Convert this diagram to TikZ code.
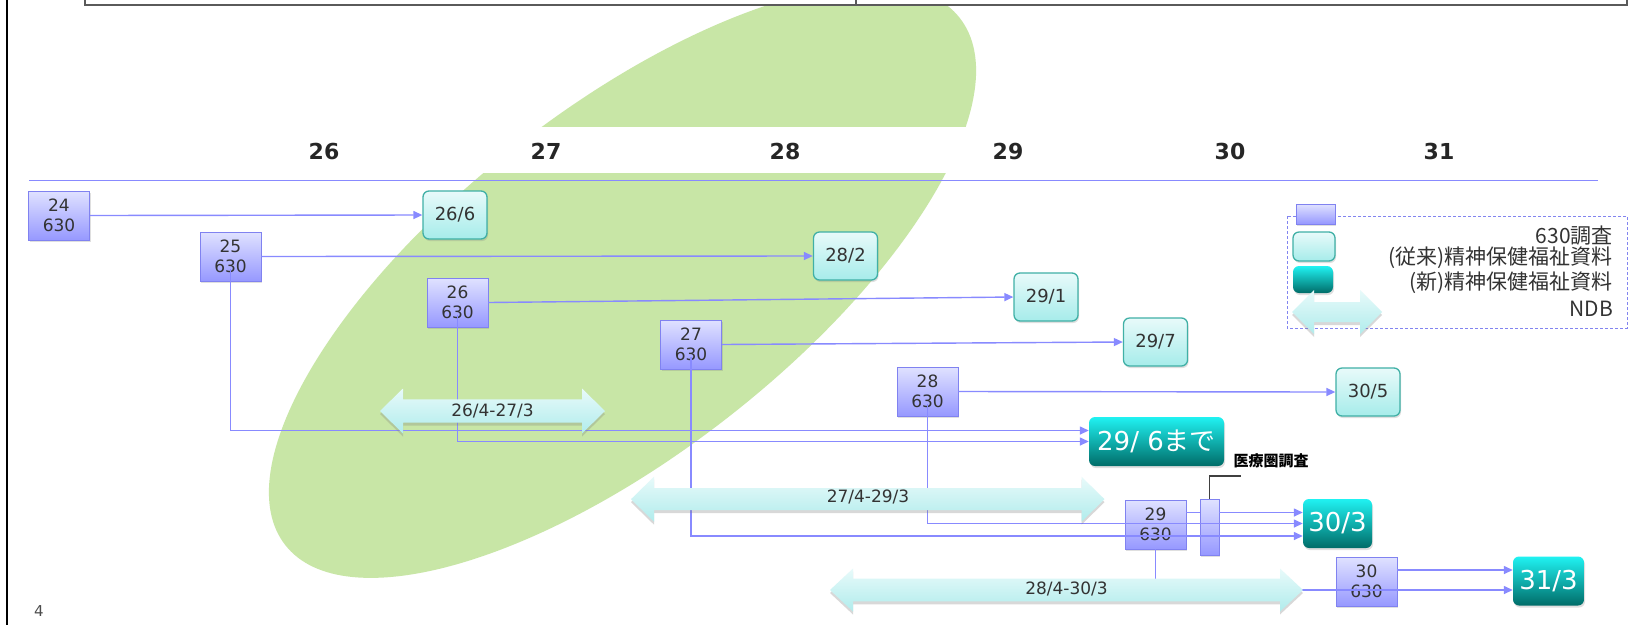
\documentclass[tikz,border=0pt]{standalone}
\usepackage{fontspec}
\setmainfont{DejaVu Sans}
\newfontfamily\jp{Noto Sans CJK JP}
\usetikzlibrary{arrows.meta,shadows}

\definecolor{leaf}{RGB}{200,230,166}
\definecolor{linkc}{RGB}{136,138,255}
\definecolor{boxtop}{RGB}{224,226,255}
\definecolor{boxbot}{RGB}{150,152,255}
\definecolor{boxedge}{RGB}{128,130,240}
\definecolor{oldtop}{RGB}{232,250,250}
\definecolor{oldbot}{RGB}{166,236,234}
\definecolor{oldedge}{RGB}{64,176,166}
\definecolor{newtop}{RGB}{32,242,242}
\definecolor{newbot}{RGB}{0,108,104}
\definecolor{ndbtop}{RGB}{232,250,250}
\definecolor{ndbbot}{RGB}{176,236,236}
\definecolor{txt}{RGB}{51,51,51}
\definecolor{framec}{RGB}{90,90,90}
\definecolor{legdash}{RGB}{130,132,240}

% double-headed NDB period arrow: left tip x, right tip x, axis y, head half-height, shaft half-height, head length
\newcommand\ndbpath[6]{%
  \path[ndbfill] (#1,#3) -- (#1+#6,#3-#4) -- (#1+#6,#3-#5) -- (#2-#6,#3-#5)
    -- (#2-#6,#3-#4) -- (#2,#3) -- (#2-#6,#3+#4) -- (#2-#6,#3+#5)
    -- (#1+#6,#3+#5) -- (#1+#6,#3+#4) -- cycle;}

\begin{document}
\begin{tikzpicture}[x=1pt,y=-1pt,
  softshadow/.style={drop shadow={shadow xshift=1pt,shadow yshift=-2pt,opacity=0.25}},
  box630/.style={draw=boxedge,line width=0.8pt,top color=boxtop,bottom color=boxbot,
    minimum width=61pt,minimum height=49pt,inner sep=0pt,align=center,text=txt,
    font=\fontsize{17}{19.5}\selectfont,softshadow},
  olddate/.style={draw=oldedge,line width=1.3pt,rounded corners=6pt,top color=oldtop,
    bottom color=oldbot,minimum width=64pt,minimum height=48pt,inner sep=0pt,text=txt,
    font=\fontsize{18}{20}\selectfont,softshadow},
  newdate/.style={rounded corners=6pt,top color=newtop,bottom color=newbot,
    minimum height=49pt,inner sep=0pt,text=white,font=\fontsize{26}{28}\selectfont,softshadow},
  year/.style={font=\fontsize{22}{24}\selectfont\bfseries,text=black!85,inner sep=0pt},
  conn/.style={linkc,line width=1.4pt,-{Triangle[length=9pt,width=8pt]}},
  link/.style={linkc,line width=1.4pt},
  ndbfill/.style={top color=ndbtop,bottom color=ndbbot,
    drop shadow={shadow xshift=0pt,shadow yshift=-3pt,opacity=0.3}},
  ndblabel/.style={font=\fontsize{17}{19}\selectfont,text=txt,inner sep=0pt},
  legtext/.style={anchor=east,font=\jp\fontsize{21}{23}\selectfont,text=txt,inner sep=0pt},
  callout/.style={draw=black!75,line width=1.2pt}]

\useasboundingbox (0,0) rectangle (1635,625);
\fill[white] (0,0) rectangle (1635,625);

% green band behind the first years
\begin{scope}
  \clip (0,5) rectangle (1635,625);
  \fill[leaf,rotate around={38:(622.5,281.5)}] (622.5,281.5) ellipse [x radius=428,y radius=172];
\end{scope}
\fill[white] (90,127) rectangle (1600,173);

% page frame and table edge
\draw[black,line width=2pt] (6.7,0) -- (6.7,625);
\draw[framec,line width=2pt] (85,0) -- (85,4.5) -- (1627,4.5) -- (1627,0);
\draw[framec,line width=1.2pt] (856,0) -- (856,4.5);

% year header
\draw[linkc,line width=1pt] (29,180) -- (1598,180);
\node[year] (y26) at (324,151) {26};
\node[year] (y27) at (546,151) {27};
\node[year] (y28) at (785,151) {28};
\node[year] (y29) at (1008,151) {29};
\node[year] (y30) at (1230,151) {30};
\node[year] (y31) at (1439,151) {31};

% 630 surveys
\node[box630] (b24) at (59,215.5) {24\\630};
\node[box630] (b25) at (230.5,256.5) {25\\630};
\node[box630] (b26) at (457.5,302.5) {26\\630};
\node[box630] (b27) at (691,344.5) {27\\630};
\node[box630] (b28) at (927.5,391.5) {28\\630};
\node[box630] (b29) at (1155.5,524.5) {29\\630};
\node[box630] (b30) at (1366.5,581.5) {30\\630};
\node[box630,minimum width=19pt,minimum height=56pt] (srv) at (1209.5,527) {};

% earlier-style reports
\node[olddate] (d266) at (455,215) {26/6};
\node[olddate] (d282) at (845.5,256) {28/2};
\node[olddate] (d291) at (1046,297) {29/1};
\node[olddate] (d297) at (1155.5,342) {29/7};
\node[olddate] (d305) at (1368,392) {30/5};

% new-style reports
\node[newdate,minimum width=135pt] (n296) at (1156.5,441.5) {29/ 6{\jp まで}};
\node[newdate,minimum width=69pt] (n303) at (1337.5,523.5) {30/3};
\node[newdate,minimum width=71pt] (n313) at (1548.5,581) {31/3};

% connectors
\draw[conn] (b24.east) -- (d266.west);
\draw[conn] (b25.east) -- (d282.west);
\draw[conn] (b26.east) -- (d291.west);
\draw[conn] (b27.east) -- (d297.west);
\draw[conn] (b28.east) -- (d305.west);
\draw[conn] ([yshift=-12pt]b25.center) |- ([yshift=11pt]n296.west);
\draw[conn] ([yshift=-12pt]b26.center) |- (n296.west);
\draw[conn] ([yshift=-12pt]b27.center) |- ([yshift=-12.5pt]n303.west);
\draw[conn] ([yshift=-12pt]b28.center) |- (n303.west);
\coordinate (s29) at ([yshift=11pt]n303.west);
\draw[link] (b29.east |- s29) -- (srv.west |- s29);
\draw[conn] (srv.east |- s29) -- (s29);
\draw[conn] (b29.south) |- ([yshift=-9pt]n313.west);
\coordinate (s31) at ([yshift=11pt]n313.west);
\draw[conn] (b30.east |- s31) -- (s31);

% NDB periods
\ndbpath{380}{605}{411}{22.5}{11.7}{23}
\node[ndblabel] (a1) at (492.5,411) {26/4-27/3};
\ndbpath{631}{1104.5}{499.2}{22.5}{11}{23}
\node[ndblabel] (a2) at (868,496.7) {27/4-29/3};
\ndbpath{830}{1303}{590}{21.5}{11.3}{23}
\node[ndblabel] (a3) at (1066.5,589) {28/4-30/3};

% regional survey callout
\coordinate (cl) at (1241,476);
\draw[callout] (srv.north) |- (cl);
\node[font=\jp\bfseries\fontsize{15}{17}\selectfont,inner sep=0pt] (cltext) at (1271,461) {医療圏調査};

% legend
\draw[legdash,line width=1pt,dash pattern=on 3pt off 2pt] (1287,216) rectangle (1627,328);
\node[box630,minimum width=39pt,minimum height=20pt] (lg1) at (1315.5,214) {};
\node[olddate,minimum width=42pt,minimum height=29pt] (lg2) at (1314,246.5) {};
\node[newdate,minimum width=40pt,minimum height=27pt] (lg3) at (1313,279.5) {};
\ndbpath{1292}{1382}{312}{22}{10}{22}
\node[legtext] (lt1) at (1613,235.5) {630調査};
\node[legtext] (lt2) at (1613,258) {(従来)精神保健福祉資料};
\node[legtext] (lt3) at (1613,283) {(新)精神保健福祉資料};
\node[legtext] (lt4) at (1613,308.5) {NDB};

% page number
\node[font=\fontsize{15}{17}\selectfont,text=black!70,inner sep=0pt] (pg) at (39,611) {4};
\end{tikzpicture}
\end{document}
